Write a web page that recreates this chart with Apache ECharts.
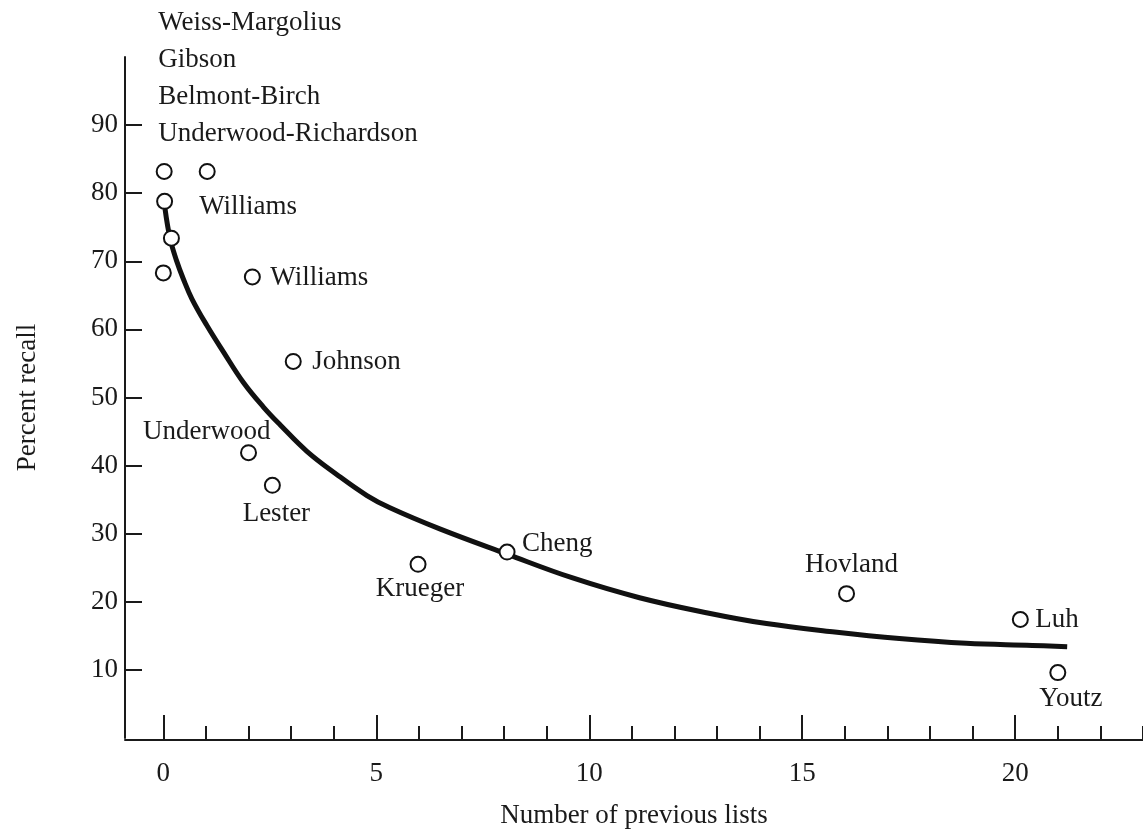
<!DOCTYPE html>
<html>
<head>
<meta charset="utf-8">
<script src="https://cdn.jsdelivr.net/npm/echarts@6/dist/echarts.min.js"></script>
<style>
html,body{margin:0;padding:0;background:#fff;}
#chart{width:1143px;height:834px;}
</style>
</head>
<body>
<div id="chart"></div>
<script>
// ---- data ----
var studies = ["Weiss-Margolius","Gibson","Belmont-Birch","Underwood-Richardson","Williams","Williams","Johnson","Underwood","Lester","Krueger","Cheng","Hovland","Luh","Youtz"];
var previousLists = [0.02,0.03,0.19,0.0,1.03,2.09,3.05,2.0,2.56,5.98,8.07,16.04,20.12,21.0];
var percentRecall = [83.2,78.8,73.4,68.3,83.2,67.7,55.3,41.9,37.1,25.5,27.3,21.2,17.4,9.6];

var curveX = [0.04,0.16,0.31,0.47,0.67,1.02,1.41,1.88,2.35,2.74,3.37,4.07,4.78,5.32,6.49,8.07,9.61,11.18,12.75,14.16,15.71,17.28,18.85,20.4,21.22];
var curveY = [77.7,73.3,70.1,67.4,64.5,60.6,56.7,52.2,48.6,46.0,42.1,38.7,35.6,33.8,30.7,27.0,23.5,20.6,18.4,16.8,15.6,14.6,13.9,13.6,13.4];

var xMajorTicks = [0,5,10,15,20];
var xMinorTicks = [0,1,2,3,4,5,6,7,8,9,10,11,12,13,14,15,16,17,18,19,20,21,22,23];
var yTicks = [10,20,30,40,50,60,70,80,90];

// ---- styling ----
var FONT = 'Liberation Serif';
var INK = '#1a1a1a';
var labelPlacement = [
  {show:true, align:'left', verticalAlign:'middle', offset:[-6,-93], lineHeight:37, text:'group'},
  {show:false},{show:false},{show:false},
  {show:true, align:'left', verticalAlign:'middle', offset:[-8,35]},
  {show:true, align:'left', verticalAlign:'middle', offset:[18,1]},
  {show:true, align:'left', verticalAlign:'middle', offset:[19,0]},
  {show:true, align:'right', verticalAlign:'middle', offset:[22,-21]},
  {show:true, align:'center', verticalAlign:'middle', offset:[4,29]},
  {show:true, align:'center', verticalAlign:'middle', offset:[2,25]},
  {show:true, align:'left', verticalAlign:'middle', offset:[15,-8]},
  {show:true, align:'center', verticalAlign:'middle', offset:[5,-29]},
  {show:true, align:'left', verticalAlign:'middle', offset:[15,0]},
  {show:true, align:'center', verticalAlign:'middle', offset:[13,26]}
];

var pointData = previousLists.map(function(x,i){
  var p = labelPlacement[i];
  var lab = {show:p.show};
  if (p.show) {
    lab.position = 'inside';
    lab.align = p.align;
    lab.verticalAlign = p.verticalAlign;
    lab.offset = p.offset;
    lab.color = INK;
    lab.fontFamily = FONT;
    lab.fontSize = 27;
    lab.textBorderWidth = 0;
    if (p.lineHeight) lab.lineHeight = p.lineHeight;
    lab.formatter = p.text === 'group' ? studies.slice(0,4).join('\n') : studies[i];
  }
  return {name:studies[i], value:[x, percentRecall[i]], label:lab};
});
var curveData = curveX.map(function(x,i){ return [x, curveY[i]]; });

var chart = echarts.init(document.getElementById('chart'));
chart.setOption({
  animation:false,
  backgroundColor:'#fff',
  grid:{left:125, right:0, top:57, bottom:92, containLabel:false},
  xAxis:[{
    type:'value', min:-0.9, max:23,
    position:'bottom', offset:2,
    name:'Number of previous lists', nameLocation:'middle', nameGap:62,
    nameTextStyle:{fontFamily:FONT, fontSize:27, color:INK},
    axisLine:{show:true, onZero:false, lineStyle:{color:INK, width:2}},
    axisTick:{show:true, inside:true, length:14, customValues:xMinorTicks, lineStyle:{color:INK, width:2}},
    axisLabel:{show:true, margin:20, customValues:xMajorTicks, fontFamily:FONT, fontSize:27, color:INK},
    splitLine:{show:false}
  },{
    type:'value', min:-0.9, max:23,
    position:'bottom', offset:2,
    axisLine:{show:false, onZero:false},
    axisTick:{show:true, inside:true, length:25, customValues:xMajorTicks, lineStyle:{color:INK, width:2}},
    axisLabel:{show:false},
    splitLine:{show:false}
  }],
  yAxis:{
    type:'value', min:0, max:100,
    name:'Percent recall', nameLocation:'middle', nameGap:84, nameRotate:90,
    nameTextStyle:{fontFamily:FONT, fontSize:27, color:INK},
    axisLine:{show:true, onZero:false, lineStyle:{color:INK, width:2}},
    axisTick:{show:true, inside:true, length:17, customValues:yTicks, lineStyle:{color:INK, width:2}},
    axisLabel:{show:true, margin:7, customValues:yTicks, fontFamily:FONT, fontSize:27, color:INK},
    splitLine:{show:false}
  },
  series:[{
    type:'line',
    data:curveData,
    smooth:0.4,
    showSymbol:false,
    symbol:'none',
    clip:false,
    lineStyle:{color:'#111', width:5},
    z:2
  },{
    type:'scatter',
    data:pointData,
    symbol:'circle',
    symbolSize:15,
    clip:false,
    itemStyle:{color:'#fff', borderColor:'#111', borderWidth:2, opacity:1},
    label:{fontFamily:FONT, fontSize:27, color:INK},
    z:3
  }]
});
</script>
</body>
</html>
